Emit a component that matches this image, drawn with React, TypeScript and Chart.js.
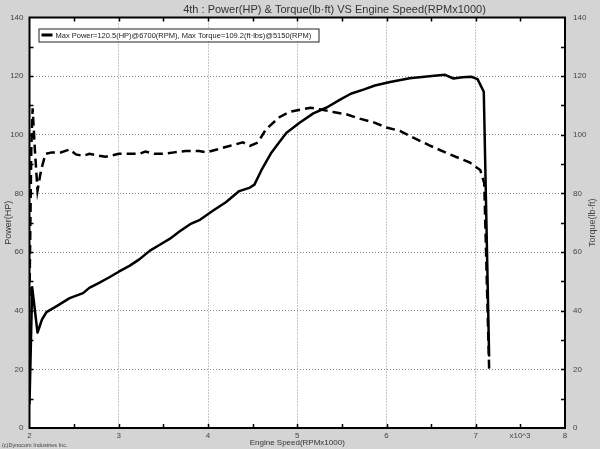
import React, { useEffect, useRef } from "react";
import { Chart, registerables } from "chart.js";

Chart.register(...registerables);

const TITLE = "4th : Power(HP) & Torque(lb·ft) VS Engine Speed(RPMx1000)";
const LEGEND_TEXT = "Max Power=120.5(HP)@6700(RPM), Max Torque=109.2(ft·lbs)@5150(RPM)";
const X_TITLE = "Engine Speed(RPMx1000)";
const Y_LEFT_TITLE = "Power(HP)";
const Y_RIGHT_TITLE = "Torque(lb·ft)";
const X_MULT = "x10^3";
const COPYRIGHT = "(c)Dynocom Industries Inc.";

const X_MIN = 2;
const X_MAX = 8;
const Y_MIN = 0;
const Y_MAX = 140;
const X_MINOR_TICKS = [2.5, 3, 3.5, 4, 4.5, 5, 5.5, 6, 6.5, 7, 7.5];
const Y_MINOR_TICKS = [10, 20, 30, 40, 50, 60, 70, 80, 90, 100, 110, 120, 130];

// Power (HP) vs engine speed (x1000 RPM)
const powerRpm = [
  2.0, 2.03, 2.09, 2.14, 2.19, 2.3, 2.45, 2.6, 2.67, 2.78, 2.9, 3.0, 3.12, 3.23,
  3.35, 3.46, 3.57, 3.68, 3.8, 3.91, 4.05, 4.2, 4.35, 4.47, 4.52, 4.6, 4.71, 4.8,
  4.88, 5.03, 5.18, 5.33, 5.48, 5.6, 5.75, 5.87, 6.04, 6.26, 6.48, 6.65, 6.75,
  6.85, 6.95, 7.02, 7.09, 7.15,
];
const powerHp = [
  8, 48, 32.5, 37, 39.5, 41.5, 44.3, 46, 47.8, 49.5, 51.5, 53.3, 55.3, 57.5,
  60.5, 62.5, 64.5, 67, 69.5, 71, 74, 77, 80.8, 82, 83, 88, 93.9, 97.5,
  100.7, 104.2, 107.3, 109.3, 112, 114, 115.5, 116.8, 118, 119.3, 120, 120.5, 119.2,
  119.6, 119.8, 119, 114.7, 24.4,
];

// Torque (lb·ft) vs engine speed (x1000 RPM)
const torqueRpm = [
  2.0, 2.02, 2.035, 2.06, 2.09, 2.13, 2.18, 2.25, 2.35, 2.45, 2.52, 2.6, 2.67,
  2.75, 2.85, 3.0, 3.12, 3.23, 3.3, 3.4, 3.5, 3.62, 3.75, 3.9, 3.98, 4.1, 4.24,
  4.39, 4.47, 4.56, 4.65, 4.8, 4.91, 5.06, 5.15, 5.25, 5.4, 5.55, 5.7, 5.85, 6.0,
  6.15, 6.3, 6.48, 6.71, 6.93, 7.05, 7.095, 7.15,
];
const torqueLbft = [
  45, 95, 109, 95, 81, 88, 93.5, 94, 94, 95, 93.3, 92.8, 93.5,
  93, 92.5, 93.5, 93.5, 93.5, 94.3, 93.5, 93.5, 94, 94.5, 94.5, 94, 95, 96.2,
  97.4, 96.2, 97.4, 101.9, 106, 107.8, 108.7, 109.2, 108.7, 107.8, 107, 105.5, 104.3, 102.5,
  101.3, 99, 96.4, 93.3, 90.6, 88, 83.5, 20.2,
];

const FONT = "'Liberation Sans', Arial, sans-serif";

const decorPlugin = {
  id: "decor",
  beforeDraw(chart: any) {
    const { ctx, chartArea: a } = chart;
    ctx.save();
    ctx.fillStyle = "#d4d4d4";
    ctx.fillRect(0, 0, chart.width, chart.height);
    ctx.fillStyle = "#ffffff";
    ctx.fillRect(a.left, a.top, a.right - a.left, a.bottom - a.top);
    ctx.restore();
  },
  afterDatasetsDraw(chart: any) {
    const { ctx, chartArea: a } = chart;
    const xs = chart.scales.x;
    const yl = chart.scales.y;
    const yr = chart.scales.yR;
    ctx.save();
    // inward tick marks
    ctx.strokeStyle = "#000";
    ctx.lineWidth = 1.5;
    ctx.beginPath();
    X_MINOR_TICKS.forEach((v) => {
      const px = Math.round(xs.getPixelForValue(v)) + 0.5;
      ctx.moveTo(px, a.bottom);
      ctx.lineTo(px, a.bottom - 4);
      ctx.moveTo(px, a.top);
      ctx.lineTo(px, a.top + 4);
    });
    Y_MINOR_TICKS.forEach((v) => {
      const pl = Math.round(yl.getPixelForValue(v)) + 0.5;
      ctx.moveTo(a.left, pl);
      ctx.lineTo(a.left + 4, pl);
      const pr = Math.round(yr.getPixelForValue(v)) + 0.5;
      ctx.moveTo(a.right, pr);
      ctx.lineTo(a.right - 4, pr);
    });
    ctx.stroke();
    // frame
    ctx.lineWidth = 2;
    ctx.strokeRect(a.left, a.top, a.right - a.left, a.bottom - a.top);

    // legend box
    const lx = a.left + 9;
    const ly = a.top + 11;
    ctx.fillStyle = "#fff";
    ctx.fillRect(lx, ly, 280, 13);
    ctx.lineWidth = 1;
    ctx.strokeStyle = "#222";
    ctx.strokeRect(lx + 0.5, ly + 0.5, 280, 13);
    ctx.fillStyle = "#000";
    ctx.fillRect(lx + 3, ly + 5, 11, 3);
    ctx.fillStyle = "#222";
    ctx.font = `7.5px ${FONT}`;
    ctx.textBaseline = "middle";
    ctx.textAlign = "left";
    ctx.fillText(LEGEND_TEXT, lx + 17, ly + 7);
    ctx.restore();
  },
  afterDraw(chart: any) {
    const { ctx, chartArea: a } = chart;
    ctx.save();
    ctx.fillStyle = "#333";
    ctx.textBaseline = "middle";
    ctx.textAlign = "center";
    ctx.font = `11px ${FONT}`;
    ctx.fillText(TITLE, 334.5, 10);

    ctx.fillStyle = "#444";
    ctx.font = `8px ${FONT}`;
    ctx.fillText(X_MULT, 520, 435.5);

    ctx.save();
    ctx.translate(593, (a.top + a.bottom) / 2);
    ctx.rotate(-Math.PI / 2);
    ctx.font = `9px ${FONT}`;
    ctx.fillText(Y_RIGHT_TITLE, 0, 0);
    ctx.restore();

    ctx.textAlign = "left";
    ctx.font = `5.5px ${FONT}`;
    ctx.fillText(COPYRIGHT, 2, 445);
    ctx.restore();
  },
};

export default function App() {
  const ref = useRef<HTMLCanvasElement | null>(null);

  useEffect(() => {
    if (!ref.current) return;
    const gridColor = (min: number, max: number) => (c: any) =>
      c.tick && c.tick.value > min && c.tick.value < max ? "#8c8c8c" : "rgba(0,0,0,0)";

    const chart = new Chart(ref.current, {
      type: "line",
      data: {
        datasets: [
          {
            label: "Power",
            data: powerRpm.map((x, i) => ({ x, y: powerHp[i] })),
            borderColor: "#000",
            borderWidth: 2.5,
            pointRadius: 0,
            tension: 0,
            fill: false,
            yAxisID: "y",
            borderJoinStyle: "round",
          },
          {
            label: "Torque",
            data: torqueRpm.map((x, i) => ({ x, y: torqueLbft[i] })),
            borderColor: "#000",
            borderWidth: 2.5,
            borderDash: [9, 5],
            pointRadius: 0,
            tension: 0,
            fill: false,
            yAxisID: "yR",
          },
        ],
      },
      options: {
        animation: false,
        responsive: false,
        devicePixelRatio: 1,
        layout: { padding: { top: 17.5, left: 0, right: 0, bottom: 0 } },
        plugins: {
          legend: { display: false },
          title: { display: false },
          tooltip: { enabled: false },
        },
        scales: {
          x: {
            type: "linear",
            position: "bottom",
            min: X_MIN,
            max: X_MAX,
            ticks: {
              stepSize: 1,
              color: "#444",
              font: { family: FONT, size: 8 },
              padding: 3,
              maxRotation: 0,
            },
            grid: { color: gridColor(X_MIN, X_MAX), lineWidth: 1, drawTicks: false },
            border: { display: false, dash: [1, 2] },
            title: {
              display: true,
              text: X_TITLE,
              color: "#333",
              font: { family: FONT, size: 8 },
              padding: { top: 0, bottom: 1.5 },
            },
            afterFit: (s: any) => {
              s.height = 21;
            },
          },
          y: {
            type: "linear",
            position: "left",
            min: Y_MIN,
            max: Y_MAX,
            ticks: {
              stepSize: 20,
              color: "#444",
              font: { family: FONT, size: 8 },
              padding: 6,
            },
            grid: { color: gridColor(Y_MIN, Y_MAX), lineWidth: 1, drawTicks: false },
            border: { display: false, dash: [1, 2] },
            title: {
              display: true,
              text: Y_LEFT_TITLE,
              color: "#333",
              font: { family: FONT, size: 9 },
              padding: { top: 3, bottom: 0 },
            },
            afterFit: (s: any) => {
              s.width = 29.5;
            },
          },
          yR: {
            type: "linear",
            position: "right",
            min: Y_MIN,
            max: Y_MAX,
            ticks: {
              stepSize: 20,
              color: "#444",
              font: { family: FONT, size: 8 },
              padding: 8,
            },
            grid: { display: false, drawTicks: false },
            border: { display: false },
            afterFit: (s: any) => {
              s.width = 35;
            },
          },
        },
      } as any,
      plugins: [decorPlugin],
    });
    return () => chart.destroy();
  }, []);

  return (
    <div style={{ position: "fixed", left: 0, top: 0, width: 600, height: 449 }}>
      <canvas ref={ref} width={600} height={449} style={{ width: 600, height: 449, display: "block" }} />
    </div>
  );
}
